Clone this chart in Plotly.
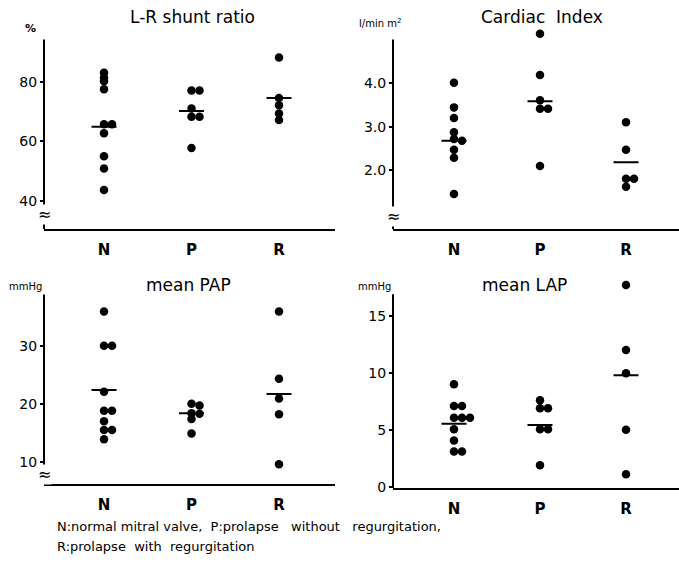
import plotly.graph_objects as go

# Groups on every panel
categories = ["N", "P", "R"]

# L-R shunt ratio (%)
shunt_N = [83.2, 81.5, 80.3, 77.6, 65.8, 65.8, 62.8, 55.0, 50.9, 43.6]
shunt_P = [77.2, 77.2, 71.1, 68.3, 68.3, 57.8]
shunt_R = [88.3, 74.7, 72.2, 69.4, 67.2]
shunt_mean = [65.0, 70.3, 74.7]

# Cardiac index (l/min m2)
ci_N = [4.0, 3.44, 3.2, 2.87, 2.72, 2.68, 2.47, 2.29, 1.46]
ci_P = [5.12, 4.18, 3.6, 3.41, 3.41, 2.1]
ci_R = [3.1, 2.47, 1.81, 1.81, 1.63]
ci_mean = [2.68, 3.58, 2.19]

# Mean pulmonary artery pressure (mmHg)
pap_N = [35.9, 30.0, 30.0, 22.1, 18.8, 18.8, 17.0, 15.5, 15.5, 13.9]
pap_P = [20.0, 19.7, 18.4, 18.3, 17.4, 14.9]
pap_R = [35.9, 24.3, 20.9, 18.2, 9.6]
pap_mean = [22.4, 18.4, 21.7]

# Mean left atrial pressure (mmHg)
lap_N = [9.0, 7.1, 7.1, 6.05, 6.05, 6.05, 5.06, 4.06, 3.1, 3.1]
lap_P = [7.6, 6.9, 6.9, 5.06, 5.06, 1.9]
lap_R = [17.7, 12.0, 9.97, 5.0, 1.1]
lap_mean = [5.54, 5.43, 9.8]

# Tick labels
shunt_ticks = [40, 60, 80]
ci_ticks = [2.0, 3.0, 4.0]
ci_ticktext = ["2.0", "3.0", "4.0"]
pap_ticks = [10, 20, 30]
lap_ticks = [0, 5, 10, 15]

W, H = 679, 571
FONT = "DejaVu Sans"


def px(x):
    return x / W


def py(y):
    return 1 - y / H


# ydom: pixel rows of the plotting area; yr: its value range;
# axis_top: where the drawn vertical axis line stops
panels = [
    dict(title="L-R shunt ratio", unit="<b>%</b>", unit_size=11,
         groups=[shunt_N, shunt_P, shunt_R], mean=shunt_mean,
         xdom=(44, 335), ydom=(28, 232), xr=[0.314, 3.64], yr=[30.4, 98.4], axis_top=94.4,
         tickvals=shunt_ticks, ticktext=[str(t) for t in shunt_ticks],
         title_xy=(192, 17), unit_xy=(30, 29), brk=35.3),
    dict(title="Cardiac  Index", unit="l/min m<sup>2</sup>", unit_size=10,
         groups=[ci_N, ci_P, ci_R], mean=ci_mean,
         xdom=(393, 679), ydom=(28, 232), xr=[0.291, 3.616], yr=[0.66, 5.26], axis_top=4.99,
         tickvals=ci_ticks, ticktext=ci_ticktext,
         title_xy=(542, 17), unit_xy=(380, 23), brk=0.94),
    dict(title="mean PAP", unit="mmHg", unit_size=10,
         groups=[pap_N, pap_P, pap_R], mean=pap_mean,
         xdom=(44, 335), ydom=(283, 490), xr=[0.314, 3.64], yr=[6.2, 41.4], axis_top=38.84,
         tickvals=pap_ticks, ticktext=[str(t) for t in pap_ticks],
         title_xy=(188, 289), unit_xy=(25, 290), brk=7.9),
    dict(title="mean LAP", unit="mmHg", unit_size=10,
         groups=[lap_N, lap_P, lap_R], mean=lap_mean,
         xdom=(393, 679), ydom=(283, 494), xr=[0.291, 3.616], yr=[-0.1, 18.19], axis_top=16.9,
         tickvals=lap_ticks, ticktext=[str(t) for t in lap_ticks],
         title_xy=(524, 289), unit_xy=(374, 290), brk=None),
]


def spread(values, center, tol, step):
    """Place dots of (nearly) equal value side by side, starting at the group centre."""
    xs = []
    prev = None
    k = 0
    for v in values:
        if prev is not None and abs(v - prev) <= tol:
            k += 1
        else:
            k = 0
        xs.append(center + k * step)
        prev = v
    return xs


fig = go.Figure()
annotations = []
shapes = []

for i, p in enumerate(panels, start=1):
    xa = "x" if i == 1 else f"x{i}"
    ya = "y" if i == 1 else f"y{i}"
    xw = p["xdom"][1] - p["xdom"][0]
    yh = p["ydom"][1] - p["ydom"][0]
    x_per_unit = xw / (p["xr"][1] - p["xr"][0])
    y_per_unit = yh / (p["yr"][1] - p["yr"][0])
    step = 8.0 / x_per_unit
    tol = 3.0 / y_per_unit
    half = 12.5 / x_per_unit

    for j, vals in enumerate(p["groups"]):
        c = j + 1
        fig.add_trace(go.Scatter(
            x=spread(vals, c, tol, step), y=vals, mode="markers",
            marker=dict(size=8.5, color="black"), cliponaxis=False,
            xaxis=xa, yaxis=ya, showlegend=False, hoverinfo="y"))
        fig.add_trace(go.Scatter(
            x=[c - half, c + half], y=[p["mean"][j]] * 2, mode="lines",
            line=dict(color="black", width=2), cliponaxis=False,
            xaxis=xa, yaxis=ya, showlegend=False, hoverinfo="skip"))

    lay_x = "xaxis" if i == 1 else f"xaxis{i}"
    lay_y = "yaxis" if i == 1 else f"yaxis{i}"
    fig.layout[lay_x] = dict(
        domain=[px(p["xdom"][0]), px(p["xdom"][1])], range=p["xr"], anchor=ya,
        showline=True, linecolor="black", linewidth=2, showgrid=False, zeroline=False,
        tickvals=[1, 2, 3], ticktext=[f"<b>{c}</b>" for c in categories],
        ticks="outside", ticklen=6, tickcolor="rgba(0,0,0,0)",
        tickfont=dict(family=FONT, size=15, color="black"), fixedrange=True)
    fig.layout[lay_y] = dict(
        domain=[py(p["ydom"][1]), py(p["ydom"][0])], range=p["yr"], anchor=xa,
        showline=False, showgrid=False, zeroline=False,
        tickvals=p["tickvals"], ticktext=p["ticktext"],
        ticks="outside", ticklen=3, tickcolor="black", tickwidth=1.5,
        tickfont=dict(family=FONT, size=14, color="black"), fixedrange=True)

    # vertical axis line, stopping below the highest dots
    shapes.append(dict(
        type="line", xref=f"{xa} domain", yref=ya, x0=0, x1=0,
        y0=p["yr"][0], y1=p["axis_top"], line=dict(color="black", width=2)))

    annotations.append(dict(
        text=p["title"], x=px(p["title_xy"][0]), y=py(p["title_xy"][1]),
        xref="paper", yref="paper", showarrow=False, xanchor="center", yanchor="middle",
        font=dict(family=FONT, size=17, color="black")))
    annotations.append(dict(
        text=p["unit"], x=px(p["unit_xy"][0]), y=py(p["unit_xy"][1]),
        xref="paper", yref="paper", showarrow=False, xanchor="center", yanchor="middle",
        font=dict(family=FONT, size=p["unit_size"], color="black")))
    if p["brk"] is not None:
        annotations.append(dict(
            text="≈", x=0, y=p["brk"], xref=f"{xa} domain", yref=ya,
            showarrow=False, xanchor="center", yanchor="middle",
            bgcolor="white", borderpad=0,
            font=dict(family=FONT, size=16, color="black")))

annotations.append(dict(
    text="N:normal mitral valve,  P:prolapse   without   regurgitation,",
    x=px(55), y=py(533), xref="paper", yref="paper", showarrow=False,
    xanchor="left", yanchor="middle", font=dict(family=FONT, size=13, color="black")))
annotations.append(dict(
    text="R:prolapse  with  regurgitation",
    x=px(55), y=py(553), xref="paper", yref="paper", showarrow=False,
    xanchor="left", yanchor="middle", font=dict(family=FONT, size=13, color="black")))

fig.update_layout(
    width=W, height=H, margin=dict(l=0, r=0, t=0, b=0),
    paper_bgcolor="white", plot_bgcolor="white",
    annotations=annotations, shapes=shapes, showlegend=False)

fig.write_html("out.html")
